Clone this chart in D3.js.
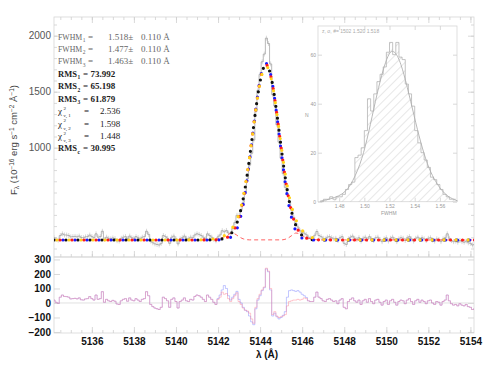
<!DOCTYPE html>
<html><head><meta charset="utf-8">
<script src="https://cdn.jsdelivr.net/npm/d3@7"></script>
<style>body{margin:0;background:#fff}svg{display:block}</style>
</head><body><svg id="c" width="490" height="368"></svg>
<script>
// ---------------- DATA ----------------
const waveStart = 5134.2, waveStep = 0.1;
const fluxData = [
196,181,174,216,231,221,220,216,204,206,
208,204,211,198,196,204,206,220,206,196,
231,201,206,254,181,201,191,186,194,188,
169,166,191,201,206,188,211,196,191,206,
196,186,201,206,254,226,166,151,141,136,
131,146,216,206,191,146,201,211,186,141,
186,196,211,191,186,201,196,221,231,226,
216,201,186,231,216,201,181,168,204,221,
259,249,261,238,234,278,331,396,393,447,
512,604,723,844,950,1068,1322,1513,1654,1767,
1836,1978,1930,1748,1473,1373,1205,1049,906,768,
646,589,519,441,378,326,292,258,242,237,
223,201,192,190,218,252,216,206,191,186,
201,206,196,186,191,171,196,206,146,136,
186,201,211,191,181,196,166,191,201,181,
206,186,171,196,201,181,161,186,196,166,
191,201,181,161,186,196,191,171,196,206,
186,166,191,201,181,196,186,171,191,196,
176,166,186,181,161,186,196,231,191,171,
161,166,156,171,161,156,166,151,146,131,136];
const fluxError = 22;

const residRed = [
20,5,-2,40,55,45,44,40,28,30,
32,28,35,22,20,28,30,44,30,20,
55,25,30,78,5,25,15,10,18,12,
-7,-10,15,25,30,12,35,20,15,30,
20,10,25,30,78,50,-10,-25,-35,-40,
-45,-30,40,30,15,-30,25,35,10,-35,
10,20,35,15,10,25,20,45,55,50,
40,25,10,55,40,25,5,-10,25,40,
75,60,65,30,10,30,50,70,10,-10,
-35,-50,-55,-70,-110,-140,-30,30,60,90,
110,240,220,100,-80,-60,-90,-100,-95,-90,
-80,-20,10,15,20,20,25,20,25,35,
30,15,10,10,40,75,40,30,15,10,
25,30,20,10,15,-5,20,30,-30,-40,
10,25,35,15,5,20,-10,15,25,5,
30,10,-5,20,25,5,-15,10,20,-10,
15,25,5,-15,10,20,15,-5,20,30,
10,-10,15,25,5,20,10,-5,15,20,
0,-10,10,5,-15,10,20,55,15,-5,
-15,-10,-20,-5,-15,-20,-10,-25,-30,-45,-40];
const residBlue = [
20,5,-2,40,55,45,44,40,28,30,
32,28,35,22,20,28,30,44,30,20,
55,25,30,78,5,25,15,10,18,12,
-7,-10,15,25,30,12,35,20,15,30,
20,10,25,30,78,50,-10,-25,-35,-40,
-45,-30,40,30,15,-30,25,35,10,-35,
10,20,35,15,10,25,20,45,55,50,
40,25,10,55,40,25,5,-10,30,55,
90,120,100,50,20,40,60,80,25,0,
-30,-50,-60,-90,-130,-150,-40,20,50,85,
105,235,215,90,-90,-70,-95,-110,-100,-85,
-60,40,85,90,85,80,85,75,60,50,
38,15,10,10,40,75,40,30,15,10,
25,30,20,10,15,-5,20,30,-30,-40,
10,25,35,15,5,20,-10,15,25,5,
30,10,-5,20,25,5,-15,10,20,-10,
15,25,5,-15,10,20,15,-5,20,30,
10,-10,15,25,5,20,10,-5,15,20,
0,-10,10,5,-15,10,20,55,15,-5,
-15,-10,-20,-5,-15,-20,-10,-25,-30,-45,-40];

const fitWave   = [5134.2,5140.0,5141.0,5141.6,5142.0,5142.2,5142.4,5142.6,5142.8,5143.0,5143.2,5143.4,5143.6,5143.8,5144.0,5144.2,5144.3,5144.4,5144.6,5144.8,5145.0,5145.2,5145.4,5145.6,5145.8,5146.0,5146.2,5146.4,5146.6,5147.0,5148.0,5154.2];
const fitBlack  = [176,176,176,177,180,186,199,228,285,386,548,776,1056,1348,1592,1726,1740,1712,1556,1298,1004,728,510,358,266,216,192,181,177,176,176,176];
const fitBlue   = [176,176,176,176,177,179,184,200,240,330,495,740,1040,1350,1605,1740,1752,1722,1555,1280,970,680,455,305,225,192,181,177,176,176,176,176];
const fitRed    = [176,176,176,176.5,178.6,183.6,196,224,281,383,547,778,1060,1352,1594,1726,1738,1710,1553,1295,1001,726,509,358,267,217,193,182,178,176.5,176,176];
const fitYellow = [176,176,177,182,192,205,228,268,318,410,565,785,1058,1343,1583,1714,1728,1700,1548,1300,1020,760,550,410,318,262,226,203,190,180,177,176];

const compWave = [5134.2,5141.6,5142.0,5142.3,5142.5,5142.65,5142.8,5143.0,5143.2,5143.5,5145.0,5145.3,5145.5,5145.7,5145.9,5146.1,5146.4,5146.8,5154.2];
const compRed  = [176,177,186,205,226,238,230,205,186,177,177,190,215,238,228,205,186,177,176];

const xTickValues = [5136,5138,5140,5142,5144,5146,5148,5150,5152,5154];
const yMainTicks = [1000,1500,2000];
const yResTicks = [-200,-100,0,100,200,300];

const histStart = 1.465, histWidth = 0.0025;
const histCounts = [0,1,1,2,1,2,2,3,5,7,8,18,19,22,29,42,37,44,49,52,55,61,65,60,65,59,58,48,44,39,29,24,20,17,14,10,9,7,5,3,2,1,1];
const histCurveX = [1.4648,1.4808,1.4888,1.4968,1.5021,1.5075,1.5128,1.5168,1.5208,1.5248,1.5288,1.5341,1.5395,1.5448,1.5501,1.5555,1.5608,1.5661,1.5741];
const histCurveY = [0.2,2,6,15,25,38,50,57,62,61,57,47,35,24,15,9,5,2,0.3];
const histXTicks = [1.48,1.50,1.52,1.54,1.56];
const histYTicks = [0,20,40,60];

const fwhmValues = [1.518,1.477,1.463];
const fwhmError = 0.110;
const rmsValues = [73.992,65.198,61.879];
const chi2Values = [2.536,1.598,1.448];
const rmsCont = 30.995;

// ---------------- DRAW ----------------
const svg = d3.select("#c");
const L=54,R=474,T=17,MB=257,RB=333;
const x = d3.scaleLinear().domain([5134.2,5154.17]).range([L,R]);
const yM = d3.scaleLinear().domain([24,2167]).range([MB,T]);
const yR = d3.scaleLinear().domain([-207,317]).range([RB,MB]);
const wave = fluxData.map((d,i)=>waveStart+i*waveStep);
const fmtInt = d3.format("d");

const defs = svg.append("defs");
defs.append("clipPath").attr("id","cm").append("rect").attr("x",L).attr("y",T).attr("width",R-L).attr("height",MB-T);
defs.append("clipPath").attr("id","cr").append("rect").attr("x",L).attr("y",MB).attr("width",R-L).attr("height",RB-MB);
const pat = defs.append("pattern").attr("id","hatch").attr("patternUnits","userSpaceOnUse")
  .attr("width",6).attr("height",6).attr("patternTransform","rotate(45)");
pat.append("line").attr("x1",0).attr("y1",0).attr("x2",0).attr("y2",6).attr("stroke","#c4c4c4").attr("stroke-width",0.8);

const frameCol="#d6d6d6", tickCol="#cfcfcf";
function clean(g){ g.select(".domain").remove(); g.selectAll(".tick line").attr("stroke",tickCol).attr("stroke-width",0.8); return g; }

// Inset
const ix = d3.scaleLinear().domain([1.4632,1.5736]).range([318,457]);
const iy = d3.scaleLinear().domain([0,71.7]).range([201.7,26]);
const inset = svg.append("g");
inset.append("rect").attr("x",318).attr("y",26).attr("width",139).attr("height",175.7).attr("fill","none").attr("stroke",frameCol).attr("stroke-width",0.8);
const histPts = [];
histCounts.forEach((c,i)=>{ const a=histStart+i*histWidth; histPts.push([a,c],[a+histWidth,c]); });
const histArea = d3.area().x(d=>ix(d[0])).y0(iy(0)).y1(d=>iy(d[1]));
inset.append("path").attr("d",histArea(histPts)).attr("fill","url(#hatch)");
inset.append("path").attr("d",d3.line().x(d=>ix(d[0])).y(d=>iy(d[1]))(histPts)).attr("fill","none").attr("stroke","#aaa").attr("stroke-width",0.7);
inset.append("path").attr("d",d3.line().x((d,i)=>ix(histCurveX[i])).y(d=>iy(d)).curve(d3.curveBasis)(histCurveY)).attr("fill","none").attr("stroke","#b0b0b0").attr("stroke-width",0.9);
const ixa = inset.append("g").attr("transform","translate(0,201.7)").call(d3.axisBottom(ix).tickValues(histXTicks).tickSize(-4).tickPadding(3).tickFormat(d3.format(".2f")));
clean(ixa).selectAll("text").attr("font-size",5).attr("fill","#999").attr("font-family","Liberation Sans");
clean(inset.append("g").attr("transform","translate(0,26)").call(d3.axisTop(ix).tickValues(histXTicks).tickSize(-4).tickFormat("")));
const iya = inset.append("g").attr("transform","translate(318,0)").call(d3.axisLeft(iy).tickValues(histYTicks).tickSize(-4).tickPadding(2));
clean(iya).selectAll("text").attr("font-size",5).attr("fill","#999").attr("font-family","Liberation Sans");
clean(inset.append("g").attr("transform","translate(457,0)").call(d3.axisRight(iy).tickValues(histYTicks).tickSize(-4).tickFormat("")));
inset.append("text").attr("x",305).attr("y",117).attr("font-size",5).attr("fill","#999").attr("font-family","Liberation Sans").text("N");
inset.append("text").attr("x",381).attr("y",215).attr("font-size",5).attr("fill","#999").attr("font-family","Liberation Sans").text("FWHM");
inset.append("text").attr("x",322).attr("y",33).attr("font-size",5).attr("fill","#aaa").attr("font-family","Liberation Sans").text("z, σ, #=  1502   1.520   1.518");

// Main panel frame & axes
svg.append("rect").attr("x",L).attr("y",T).attr("width",R-L).attr("height",MB-T).attr("fill","none").attr("stroke",frameCol).attr("stroke-width",0.8);
const yl = svg.append("g").attr("transform",`translate(${L},0)`).call(d3.axisLeft(yM).tickValues(yMainTicks).tickSize(-6).tickPadding(3).tickFormat(fmtInt));
clean(yl).selectAll("text").attr("font-size",10).attr("fill","#555").attr("font-family","Liberation Sans");
clean(svg.append("g").attr("transform",`translate(${L},0)`).call(d3.axisLeft(yM).tickValues(d3.range(100,2200,100)).tickSize(-3).tickFormat("")));
clean(svg.append("g").attr("transform",`translate(${R},0)`).call(d3.axisRight(yM).tickValues([500,1000,1500,2000]).tickSize(-6).tickFormat("")));
clean(svg.append("g").attr("transform",`translate(${R},0)`).call(d3.axisRight(yM).tickValues(d3.range(100,2200,100)).tickSize(-3).tickFormat("")));
const minorX = d3.range(5134.5,5154.1,0.5);
[[T,d3.axisTop],[MB,d3.axisBottom]].forEach(([yy,ax])=>{
  clean(svg.append("g").attr("transform",`translate(0,${yy})`).call(ax(x).tickValues(xTickValues).tickSize(-6).tickFormat("")));
  clean(svg.append("g").attr("transform",`translate(0,${yy})`).call(ax(x).tickValues(minorX).tickSize(-3).tickFormat("")));
});

// Main data
const gm = svg.append("g").attr("clip-path","url(#cm)");
gm.append("g").selectAll("line").data(fluxData).join("line")
  .attr("x1",(d,i)=>x(wave[i])).attr("x2",(d,i)=>x(wave[i]))
  .attr("y1",d=>yM(d-fluxError)).attr("y2",d=>yM(d+fluxError))
  .attr("stroke","#c0c0c0").attr("stroke-width",0.6);
gm.append("path").attr("d",d3.line().x((d,i)=>x(wave[i])).y(d=>yM(d)).curve(d3.curveStep)(fluxData))
  .attr("fill","none").attr("stroke","#999").attr("stroke-width",0.7);
gm.append("path").attr("d",d3.line().x((d,i)=>x(compWave[i])).y(d=>yM(d)).curve(d3.curveMonotoneX)(compRed))
  .attr("fill","none").attr("stroke","#ff5050").attr("stroke-width",0.9).attr("stroke-dasharray","4,3");
const fits = [[fitBlack,"#111",0],[fitBlue,"#1a1aff",3],[fitRed,"#ff1a1a",6],[fitYellow,"#ffd21a",9]];
fits.forEach(([arr,col,off])=>{
  gm.append("path").attr("d",d3.line().x((d,i)=>x(fitWave[i])).y(d=>yM(d)).curve(d3.curveMonotoneX)(arr))
    .attr("fill","none").attr("stroke",col).attr("stroke-width",3.2).attr("stroke-linecap","round")
    .attr("stroke-dasharray","0,12").attr("stroke-dashoffset",off);
});

// Annotation text (each line is one text element)
const ann = svg.append("g").attr("font-family","Liberation Serif").attr("font-size",9);
const lineY = k => 39.5 + 12.44*k;
function line(k,col,bold){
  const t = ann.append("text").attr("x",58).attr("y",lineY(k)).attr("fill",col);
  if(bold) t.attr("font-weight","bold");
  return t;
}
fwhmValues.forEach((v,k)=>{
  const t = line(k,"#666",false);
  t.append("tspan").attr("font-size",7.8).text("FWHM");
  t.append("tspan").attr("font-size",5.5).attr("dx",0.5).attr("dy",2.5).text(k+1);
  t.append("tspan").attr("x",88).attr("dy",-2.5).text("=");
  t.append("tspan").attr("x",108).text(`${v.toFixed(3)}±`);
  t.append("tspan").attr("x",141).text(`${fwhmError.toFixed(3)} Å`);
});
rmsValues.forEach((v,k)=>{
  const t = line(k+3,"#222",true);
  t.append("tspan").attr("font-size",8.5).text("RMS");
  t.append("tspan").attr("font-size",5.5).attr("dx",0.5).attr("dy",2.5).text(k+1);
  t.append("tspan").attr("x",83).attr("dy",-2.5).text("= "+v.toFixed(3));
});
chi2Values.forEach((v,k)=>{
  const t = line(k+6,"#222",false);
  t.append("tspan").text("χ");
  t.append("tspan").attr("x",63.5).attr("dy",-4.5).attr("font-size",5).text("2");
  t.append("tspan").attr("x",63.5).attr("dy",7.5).attr("font-size",5).text("ν, "+(k+1));
  t.append("tspan").attr("x",84).attr("dy",-3).text("=");
  t.append("tspan").attr("x",100).text(v.toFixed(3));
});
{
  const t = line(9,"#222",true);
  t.append("tspan").attr("font-size",8.5).text("RMS");
  t.append("tspan").attr("font-size",5.5).attr("dx",0.5).attr("dy",2.5).text("c");
  t.append("tspan").attr("x",83).attr("dy",-2.5).text("= "+rmsCont.toFixed(3));
}

// Y title
const yt = svg.append("text").attr("transform","translate(17,140) rotate(-90)").attr("text-anchor","middle")
  .attr("font-family","Liberation Sans").attr("font-size",9.5).attr("fill","#444");
yt.append("tspan").text("F");
yt.append("tspan").attr("font-size",6.5).attr("dy",2).text("λ");
yt.append("tspan").attr("dy",-2).text(" (10");
yt.append("tspan").attr("font-size",6.5).attr("dy",-3).text("−16");
yt.append("tspan").attr("dy",3).text(" erg s");
yt.append("tspan").attr("font-size",6.5).attr("dy",-3).text("−1");
yt.append("tspan").attr("dy",3).text(" cm");
yt.append("tspan").attr("font-size",6.5).attr("dy",-3).text("−2");
yt.append("tspan").attr("dy",3).text(" Å");
yt.append("tspan").attr("font-size",6.5).attr("dy",-3).text("−1");
yt.append("tspan").attr("dy",3).text(")");

// Residual panel
svg.append("rect").attr("x",L).attr("y",MB).attr("width",R-L).attr("height",RB-MB).attr("fill","none").attr("stroke",frameCol).attr("stroke-width",0.8);
const rl = svg.append("g").attr("transform",`translate(${L},0)`).call(d3.axisLeft(yR).tickValues(yResTicks).tickSize(-6).tickPadding(3).tickFormat(d=>d<0?"−"+(-d):String(d)));
clean(rl).selectAll("text").attr("font-size",10).attr("font-weight","bold").attr("fill","#111").attr("font-family","Liberation Sans");
clean(svg.append("g").attr("transform",`translate(${R},0)`).call(d3.axisRight(yR).tickValues(yResTicks).tickSize(-6).tickFormat("")));
const rb = svg.append("g").attr("transform",`translate(0,${RB})`).call(d3.axisBottom(x).tickValues(xTickValues).tickSize(-6).tickPadding(5).tickFormat(fmtInt));
clean(rb).selectAll("text").attr("font-size",10).attr("font-weight","bold").attr("fill","#111").attr("font-family","Liberation Sans");
clean(svg.append("g").attr("transform",`translate(0,${RB})`).call(d3.axisBottom(x).tickValues(minorX).tickSize(-3).tickFormat("")));
const gr = svg.append("g").attr("clip-path","url(#cr)");
gr.append("line").attr("x1",L).attr("x2",R).attr("y1",yR(0)).attr("y2",yR(0)).attr("stroke","#d8d8d8").attr("stroke-width",0.8);
gr.append("path").attr("d",d3.line().x((d,i)=>x(wave[i])).y(d=>yR(d)).curve(d3.curveStep)(residBlue))
  .attr("fill","none").attr("stroke","#7c86ff").attr("stroke-opacity",0.5).attr("stroke-width",0.9);
gr.append("path").attr("d",d3.line().x((d,i)=>x(wave[i])).y(d=>yR(d)).curve(d3.curveStep)(residRed))
  .attr("fill","none").attr("stroke","#ff7a8a").attr("stroke-opacity",0.45).attr("stroke-width",0.9);

svg.append("text").attr("x",267).attr("y",358).attr("text-anchor","middle").attr("font-family","Liberation Sans")
  .attr("font-size",10).attr("font-weight","bold").attr("fill","#111").text("λ (Å)");
</script></body></html>
